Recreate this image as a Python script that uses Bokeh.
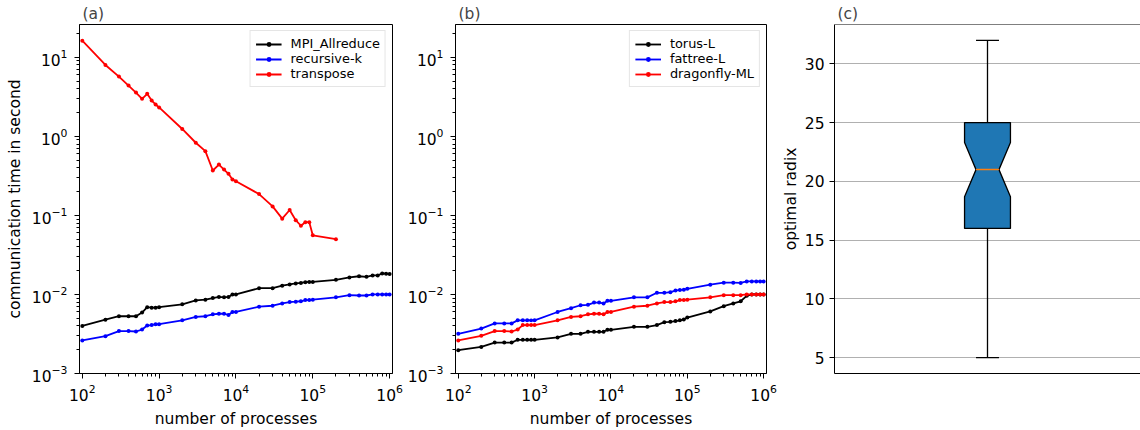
from bokeh.plotting import figure
from bokeh.layouts import row
from bokeh.models import FixedTicker, Legend, LegendItem, Range1d, Span
from bokeh.embed import file_html
from bokeh.resources import INLINE

FONT = "DejaVu Sans"
FS = "15.5px"
LEG_FS = "12.9px"

# ---------------- data ----------------
procs = [100, 200, 300, 400, 500, 600, 700, 800, 900,
         1000, 2000, 3000, 4000, 5000, 6000, 7000, 8000, 9000,
         10000, 20000, 30000, 40000, 50000, 60000, 70000, 80000, 90000,
         100000, 200000, 300000, 400000, 500000, 600000, 700000, 800000, 900000,
         1000000]
procs_transpose = [100, 200, 300, 400, 500, 600, 700, 800, 900,
                   1000, 2000, 3000, 4000, 5000, 6000, 7000, 8000, 9000,
                   10000, 20000, 30000, 40000, 50000, 60000, 70000, 80000, 90000,
                   100000, 200000]

mpi_allreduce = [0.0040, 0.0048, 0.0053, 0.0053, 0.0053, 0.0059, 0.0069, 0.0068, 0.0068,
                 0.0069, 0.0075, 0.0084, 0.0086, 0.0090, 0.0093, 0.0092, 0.0093, 0.0100,
                 0.0100, 0.0120, 0.0120, 0.0129, 0.0134, 0.0138, 0.0140, 0.0143, 0.0144,
                 0.0144, 0.0153, 0.0164, 0.0170, 0.0167, 0.0174, 0.0174, 0.0184, 0.0183,
                 0.0181]
recursive_k = [0.00262, 0.00297, 0.00344, 0.00344, 0.0034, 0.0036, 0.00405, 0.0041, 0.0042,
               0.0042, 0.0047, 0.0052, 0.0053, 0.0056, 0.0057, 0.0057, 0.0055, 0.0060,
               0.0060, 0.0070, 0.0072, 0.0077, 0.0080, 0.0081, 0.0082, 0.0085, 0.0085,
               0.0086, 0.0092, 0.0098, 0.0097, 0.0097, 0.0100, 0.0100, 0.0100, 0.0100,
               0.0100]
transpose = [16.2, 8.0, 5.7, 4.39, 3.58, 2.98, 3.45, 2.84, 2.53,
             2.32, 1.24, 0.83, 0.65, 0.37, 0.44, 0.38, 0.336, 0.285,
             0.271, 0.186, 0.130, 0.091, 0.117, 0.087, 0.074, 0.082, 0.082,
             0.056, 0.050]

torus_l = [0.00197, 0.00217, 0.00246, 0.00246, 0.00246, 0.00267, 0.00267, 0.00267, 0.00267,
           0.00267, 0.00286, 0.00318, 0.00318, 0.00337, 0.00337, 0.00337, 0.00337, 0.00357,
           0.00357, 0.0039, 0.0039, 0.0041, 0.00446, 0.0045, 0.0046, 0.0047, 0.00483,
           0.0051, 0.0061, 0.0071, 0.0077, 0.0082, 0.0096, 0.0100, 0.0100, 0.0100,
           0.0100]
fattree_l = [0.00318, 0.0037, 0.0043, 0.0043, 0.0043, 0.0047, 0.0047, 0.0047, 0.0047,
             0.0047, 0.0060, 0.0067, 0.0073, 0.0074, 0.0079, 0.0079, 0.0077, 0.0083,
             0.0083, 0.0092, 0.0092, 0.0105, 0.0105, 0.0107, 0.0112, 0.0114, 0.0115,
             0.0118, 0.0133, 0.0141, 0.0141, 0.0140, 0.0146, 0.0146, 0.0146, 0.0146,
             0.0146]
dragonfly_ml = [0.00262, 0.0030, 0.00344, 0.00344, 0.0034, 0.0036, 0.0041, 0.0041, 0.0041,
                0.0041, 0.0047, 0.0052, 0.0053, 0.0056, 0.0057, 0.0057, 0.0056, 0.0060,
                0.0060, 0.0070, 0.0072, 0.0077, 0.0080, 0.0080, 0.0082, 0.0085, 0.0085,
                0.0086, 0.0092, 0.0098, 0.0098, 0.0098, 0.0100, 0.0100, 0.0100, 0.0100,
                0.0100]

# box plot statistics for optimal radix
box_position = 1
whisker_low = 5
q1 = 16
median = 21
q3 = 25
whisker_high = 32
notch_low = 18.7
notch_high = 23.3

# tick values
x_ticks = [1e2, 1e3, 1e4, 1e5, 1e6]
y_ticks = [1e-3, 1e-2, 1e-1, 1e0, 1e1]
radix_ticks = [5, 10, 15, 20, 25, 30]

# ---------------- helpers ----------------
def minor_list(lo_exp, hi_exp, lo, hi):
    out = []
    for e in range(lo_exp, hi_exp + 1):
        for m in range(2, 10):
            v = m * 10.0 ** e
            if lo <= v <= hi:
                out.append(v)
    return out


def style_axis(ax):
    ax.axis_line_color = "black"
    ax.major_tick_line_color = "black"
    ax.minor_tick_line_color = "black"
    ax.major_tick_out = 5
    ax.major_tick_in = 0
    ax.minor_tick_out = 3
    ax.minor_tick_in = 0
    ax.major_label_text_font = FONT
    ax.major_label_text_font_size = FS
    ax.major_label_text_color = "black"
    ax.major_label_standoff = 5
    ax.axis_label_text_font = FONT
    ax.axis_label_text_font_size = FS
    ax.axis_label_text_font_style = "normal"
    ax.axis_label_text_color = "black"


def style_fig(p, label):
    p.title.text = label
    p.title.align = "left"
    p.title.text_font = FONT
    p.title.text_font_size = FS
    p.title.text_font_style = "normal"
    p.title.standoff = 3
    p.title.offset = 3
    p.outline_line_color = "black"
    p.outline_line_width = 1
    p.outline_line_alpha = 1
    p.background_fill_color = "white"
    p.border_fill_color = "white"


XR = (92, 1.09e6)
YR = (1e-3, 26)


def log_fig(width, left, right, label):
    p = figure(width=width, height=430, x_axis_type="log", y_axis_type="log",
               x_range=Range1d(*XR), y_range=Range1d(*YR),
               min_border_left=left, min_border_right=right,
               min_border_top=24, min_border_bottom=55,
               output_backend="svg", toolbar_location=None)
    style_fig(p, label)
    p.grid.visible = False
    p.xaxis.ticker = FixedTicker(ticks=x_ticks, minor_ticks=minor_list(1, 6, XR[0], XR[1]))
    p.yaxis.ticker = FixedTicker(ticks=y_ticks, minor_ticks=minor_list(-3, 1, YR[0], YR[1]))
    for ax in p.axis:
        style_axis(ax)
    p.yaxis.major_label_standoff = 7
    return p


def add_series(p, xs, ys, color, label):
    l = p.line(xs, ys, line_color=color, line_width=1.8)
    s = p.scatter(xs, ys, size=4, fill_color=color, line_color=color, line_width=0)
    return LegendItem(label=label, renderers=[l, s])


def add_legend(p, items):
    lg = Legend(items=items, location="top_right")
    lg.label_text_font = FONT
    lg.label_text_font_size = LEG_FS
    lg.label_text_color = "black"
    lg.glyph_width = 26
    lg.glyph_height = 12
    lg.label_height = 12
    lg.spacing = 0
    lg.padding = 5
    lg.margin = 6
    lg.label_standoff = 9
    lg.border_line_color = "#cccccc"
    lg.border_line_width = 1
    lg.background_fill_alpha = 0.8
    p.add_layout(lg)


# ---------------- panel (a) ----------------
p1 = log_fig(404, 79, 12, "(a)")
p1.xaxis.axis_label = "number of processes"
p1.yaxis.axis_label = "communication time in second"
p1.yaxis.axis_label_standoff = 5
p1.xaxis.axis_label_standoff = 6
items1 = [add_series(p1, procs, mpi_allreduce, "black", "MPI_Allreduce"),
          add_series(p1, procs, recursive_k, "blue", "recursive-k"),
          add_series(p1, procs_transpose, transpose, "red", "transpose")]
add_legend(p1, items1)

# ---------------- panel (b) ----------------
p2 = log_fig(374, 50, 12, "(b)")
p2.xaxis.axis_label = "number of processes"
p2.xaxis.axis_label_standoff = 6
items2 = [add_series(p2, procs, torus_l, "black", "torus-L"),
          add_series(p2, procs, fattree_l, "blue", "fattree-L"),
          add_series(p2, procs, dragonfly_ml, "red", "dragonfly-ML")]
add_legend(p2, items2)

# ---------------- panel (c) ----------------
R3 = (3.65, 33.35)
p3 = figure(width=362, height=430, x_range=Range1d(0.5, 1.5), y_range=Range1d(*R3),
            min_border_left=50, min_border_right=0, min_border_top=24, min_border_bottom=55,
            output_backend="svg", toolbar_location=None)
style_fig(p3, "(c)")
p3.outline_line_color = None
p3.xgrid.visible = False
p3.ygrid.grid_line_color = "#b0b0b0"
p3.ygrid.grid_line_width = 1
p3.yaxis.ticker = FixedTicker(ticks=radix_ticks, minor_ticks=[])
for ax in p3.axis:
    style_axis(ax)
p3.xaxis.ticker = FixedTicker(ticks=[], minor_ticks=[])
p3.xaxis.major_tick_line_color = None
p3.xaxis.minor_tick_line_color = None
p3.xaxis.major_label_text_font_size = "0px"
p3.yaxis.axis_label = "optimal radix"
p3.yaxis.axis_label_standoff = 2
p3.add_layout(Span(location=R3[1], dimension="width", line_color="black", line_width=1))

bw = 0.15
bx = box_position
box_xs = [bx - bw / 2, bx + bw / 2, bx + bw / 2, bx + bw / 4, bx + bw / 2, bx + bw / 2,
          bx - bw / 2, bx - bw / 2, bx - bw / 4, bx - bw / 2]
box_ys = [q1, q1, notch_low, median, notch_high, q3, q3, notch_high, median, notch_low]
p3.patch(box_xs, box_ys, fill_color="#1f77b4", line_color="black", line_width=1.3)
p3.segment(x0=[bx, bx], y0=[q3, whisker_low], x1=[bx, bx], y1=[whisker_high, q1],
           line_color="black", line_width=1.3)
p3.segment(x0=[bx - bw / 4, bx - bw / 4], y0=[whisker_high, whisker_low],
           x1=[bx + bw / 4, bx + bw / 4], y1=[whisker_high, whisker_low],
           line_color="black", line_width=1.3)
p3.segment(x0=[bx - bw / 4], y0=[median], x1=[bx + bw / 4], y1=[median],
           line_color="#ff7f0e", line_width=1.5)

layout = row(p1, p2, p3)
open("out.html", "w").write(file_html(layout, INLINE))
